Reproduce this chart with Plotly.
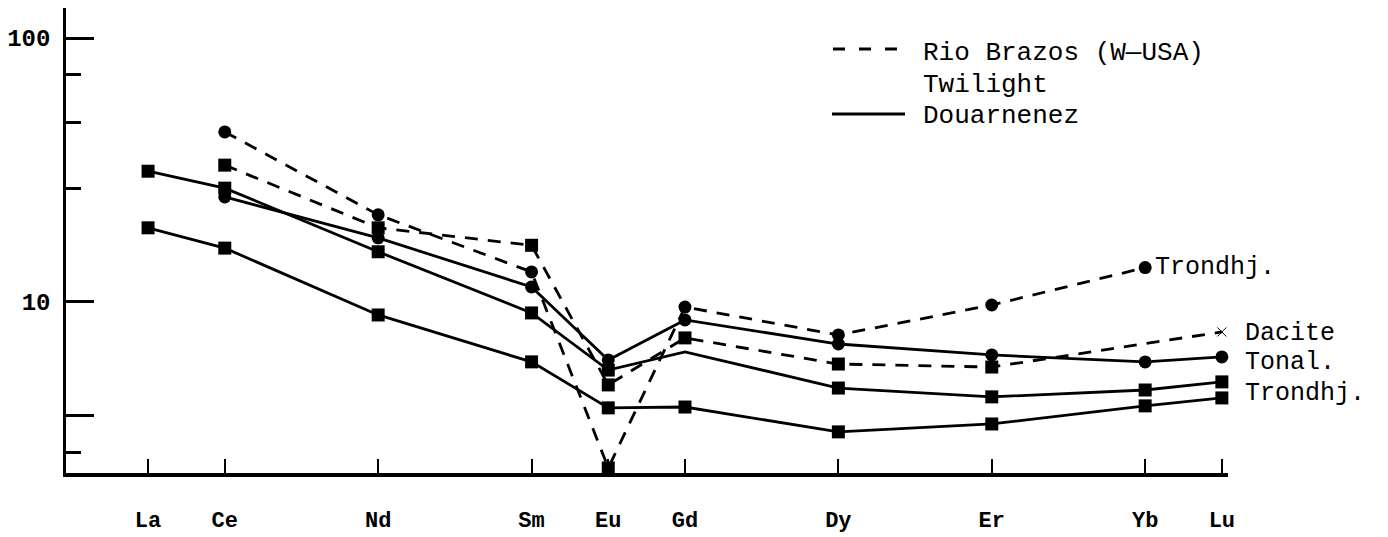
import math
import plotly.graph_objects as go

# ---- data (chondrite-normalised REE) ----
elements = ["La", "Ce", "Nd", "Sm", "Eu", "Gd", "Dy", "Er", "Yb", "Lu"]
atomic_number = [57, 58, 60, 62, 63, 64, 66, 68, 70, 71]

rio_trondhj = [None, 44.1, 21.4, 13.0, 2.35, 9.57, 7.5, 9.74, 13.5, None]
rio_dacite = [None, 33.0, 19.1, 16.4, 4.85, 7.31, 5.82, 5.67, None, 7.7]
dou_tonal = [None, 25.0, 17.5, 11.4, 6.03, 8.55, 6.93, 6.30, 5.93, 6.19]
dou_trondhj_a = [31.3, 27.0, 15.5, 9.09, 5.52, 6.47, 4.72, 4.37, 4.64, 4.98]
dou_trondhj_b = [19.1, 16.0, 8.93, 5.93, 3.97, 4.00, 3.22, 3.45, 4.04, 4.33]

y_tick_vals = [3.7, 10, 100]
y_tick_text = ["", "10", "100"]
y_minor_vals = [2.68, 27, 48, 73]

FONT = "Liberation Mono"
DASH = "13px,10px"
LW = 2.8
MS = 13

fig = go.Figure()

def add(y, dash, symbol, size_list=None, gaps=False):
    fig.add_trace(go.Scatter(
        x=atomic_number, y=y, mode="lines+markers",
        line=dict(color="black", width=LW, dash=dash),
        marker=dict(color="black", symbol=symbol, opacity=1,
                    size=size_list if size_list is not None else MS,
                    line=dict(width=0)),
        connectgaps=gaps, cliponaxis=False, showlegend=False,
    ))

add(rio_trondhj, DASH, ["circle"] * 4 + ["square"] + ["circle"] * 5, size_list=[MS] * 10, gaps=True)
add(rio_dacite, DASH, ["square"] * 9 + ["x-thin-open"], size_list=[MS] * 9 + [9], gaps=True)
add(dou_tonal, "solid", "circle", gaps=True)
add(dou_trondhj_a, "solid", "square", size_list=[MS] * 5 + [0] + [MS] * 4)
add(dou_trondhj_b, "solid", "square")

# right-hand labels
def label(text, xv, yv, xshift, yshift=0):
    fig.add_annotation(x=xv, y=math.log10(yv), xref="x", yref="y", text=text, showarrow=False,
                       xanchor="left", yanchor="middle", xshift=xshift, yshift=yshift,
                       font=dict(family=FONT, size=25, color="black"))

label("Trondhj.", atomic_number[8], rio_trondhj[8], 8)
label("Dacite", atomic_number[9], rio_dacite[9], 21, -2)
label("Tonal.", atomic_number[9], dou_tonal[9], 21, -6)
label("Trondhj.", atomic_number[9], dou_trondhj_a[9], 21, -12)

# legend (drawn by hand, as in the original)
def px_x(p):
    return (p - 66) / 1162

def px_y(p):
    return (473 - p) / 465

fig.add_shape(type="line", xref="paper", yref="paper", x0=px_x(833), x1=px_x(900),
              y0=px_y(49), y1=px_y(49), line=dict(color="black", width=2.8, dash="12px,14px"))
fig.add_shape(type="line", xref="paper", yref="paper", x0=px_x(832), x1=px_x(905),
              y0=px_y(114), y1=px_y(114), line=dict(color="black", width=2.8))
for txt, ypix in [("Rio Brazos (W\u2014USA)", 53), ("Twilight", 85), ("Douarnenez", 116)]:
    fig.add_annotation(x=px_x(921), y=px_y(ypix), xref="paper", yref="paper",
                       text=txt, showarrow=False, xanchor="left", yanchor="middle",
                       font=dict(family=FONT, size=26, color="black"))

fig.update_layout(
    width=1388, height=537,
    margin=dict(l=66, r=160, t=8, b=64, autoexpand=False),
    paper_bgcolor="white", plot_bgcolor="white",
    xaxis=dict(
        range=[55.93, 71.08], showgrid=False, zeroline=False, automargin=False,
        showline=True, linecolor="black", linewidth=3.5,
        ticks="inside", ticklen=14, tickwidth=1.5, tickcolor="black",
        tickvals=atomic_number, ticktext=elements,
        tickfont=dict(family=FONT, size=22, color="black", weight="bold"),
        ticklabelstandoff=24,
    ),
    yaxis=dict(
        type="log", range=[0.352, 2.114], showgrid=False, zeroline=False, automargin=False,
        showline=True, linecolor="black", linewidth=2.5,
        ticks="inside", ticklen=28, tickwidth=3, tickcolor="black",
        tickvals=y_tick_vals, ticktext=y_tick_text,
        tickfont=dict(family=FONT, size=24, color="black", weight="bold"),
        ticklabelstandoff=8,
        minor=dict(tickvals=y_minor_vals, ticks="inside", ticklen=15, tickwidth=3, tickcolor="black"),
    ),
)

fig.write_html("out.html", config={"displayModeBar": False},
               post_script="document.body.style.margin='0';document.body.style.overflow='hidden';")
